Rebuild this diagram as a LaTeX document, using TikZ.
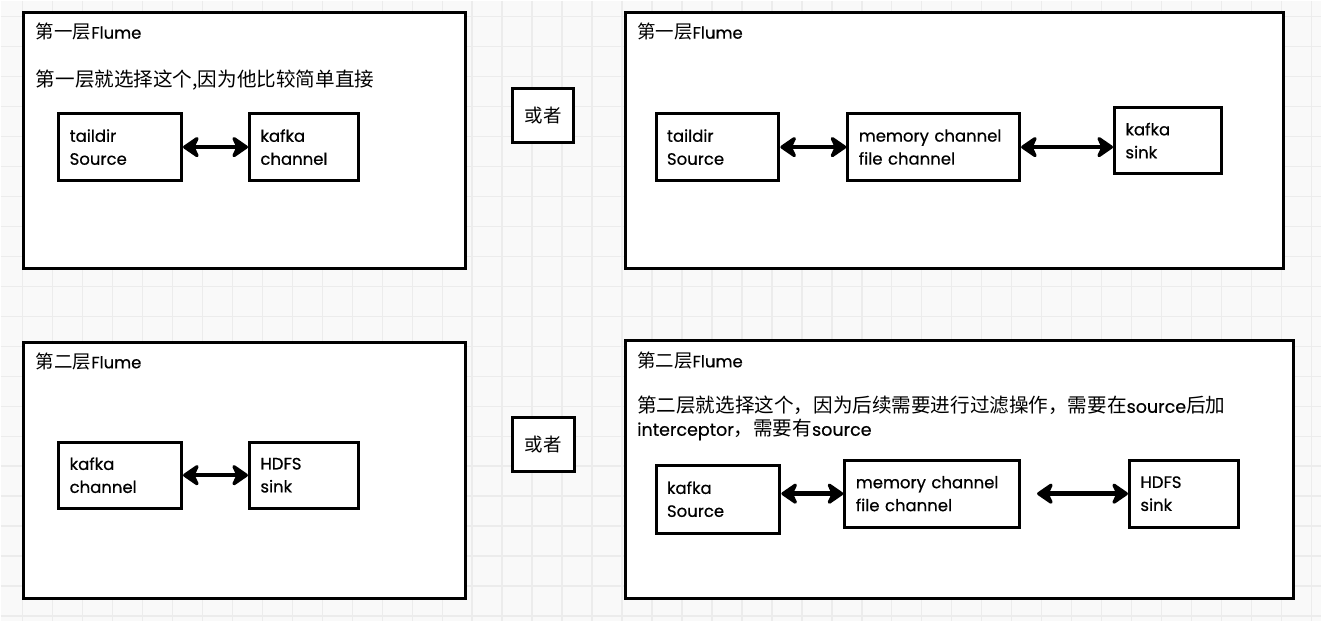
\documentclass[tikz,border=0pt]{standalone}
\usepackage{fontspec}
\setmainfont{Poppins}[UprightFeatures={FakeBold=0.5}]
\newfontfamily\cjk{Noto Sans CJK SC}[Scale=1.12]
\newcommand\zhtxt[1]{{\cjk #1}}
\usetikzlibrary{arrows.meta}
\definecolor{paper}{RGB}{249,249,249}
\definecolor{gridln}{RGB}{236,236,236}

\begin{document}
\begin{tikzpicture}[
  x=1pt, y=-1pt,
  every node/.style={font=\fontsize{16.5}{23}\selectfont},
  layer/.style={draw, line width=3pt, fill=white, inner sep=0pt},
  sbox/.style={draw, line width=3pt, fill=white, align=left, inner xsep=11pt, inner ysep=0pt, minimum height=67pt},
  title/.style={anchor=west, inner sep=0pt},
  dbl/.style={{Stealth[length=19pt,width=26pt,inset=6pt,round]}-{Stealth[length=19pt,width=26pt,inset=6pt,round]}, line width=4.5pt}
]
  % background grid
  \fill[paper] (0,0) rectangle (1322,621);
  \foreach \gx in {22,52,...,1312} \draw[gridln, line width=1.5pt] (\gx,0) -- (\gx,621);
  \foreach \gy in {16,46,...,616} \draw[gridln, line width=1.5pt] (0,\gy) -- (1322,\gy);
  \useasboundingbox (0,0) rectangle (1322,621);

  % layer frames
  \node[layer, minimum width=442pt, minimum height=256pt] (lay1a) at (244,140) {};
  \node[layer, minimum width=659pt, minimum height=256pt] (lay1b) at (954.5,140) {};
  \node[layer, minimum width=442pt, minimum height=256pt] (lay2a) at (244,470) {};
  \node[layer, minimum width=669pt, minimum height=258pt] (lay2b) at (959.5,469) {};

  % titles and notes
  \node[title] (t1a) at (35,31) {\zhtxt{第一层}Flume};
  \node[title] (t1b) at (637,31) {\zhtxt{第一层}Flume};
  \node[title] (t2a) at (35,361) {\zhtxt{第二层}Flume};
  \node[title] (t2b) at (637,360) {\zhtxt{第二层}Flume};
  \node[title, font=\fontsize{17.5}{23}\selectfont] (n1a) at (35,79) {\zhtxt{第一层就选择这个,因为他比较简单直接}};
  \node[title, align=left, font=\fontsize{17.5}{23}\selectfont] (n2b) at (637,418)
    {\zhtxt{第二层就选择这个，因为后续需要进行过滤操作，需要在}source\zhtxt{后加}\\interceptor\zhtxt{，需要有}source};

  % or boxes
  \node[layer, minimum width=61pt, minimum height=54pt] (or1) at (543,115) {\zhtxt{或者}};
  \node[layer, minimum width=62pt, minimum height=54pt] (or2) at (543,444) {\zhtxt{或者}};

  % first layer parts
  \node[sbox, text width=101pt] (src1a) at (119.5,146.5) {taildir\\Source};
  \node[sbox, text width=87pt] (ch1a) at (303.5,146.5) {kafka\\channel};
  \node[sbox, text width=101pt] (src1b) at (717.5,146.5) {taildir\\Source};
  \node[sbox, text width=150pt] (mem1b) at (934,146.5) {memory channel\\file channel};
  \node[sbox, text width=85pt, minimum height=66pt] (sink1b) at (1168.5,140) {kafka\\sink};

  % second layer parts
  \node[sbox, text width=101pt, minimum height=66pt] (ch2a) at (119.5,475) {kafka\\channel};
  \node[sbox, text width=87pt, minimum height=66pt] (sink2a) at (303.5,475) {HDFS\\sink};
  \node[sbox, text width=102pt, minimum height=68pt] (src2b) at (718,499) {kafka\\Source};
  \node[sbox, text width=153pt] (mem2b) at (932.5,493.5) {memory channel\\file channel};
  \node[sbox, text width=87pt] (sink2b) at (1184.5,493.5) {HDFS\\sink};

  % arrows
  \draw[dbl] (src1a) -- (ch1a);
  \draw[dbl] (src1b) -- (mem1b);
  \draw[dbl] (mem1b.east) -- (mem1b.east -| sink1b.west);
  \draw[dbl] (ch2a) -- (sink2a);
  \draw[dbl] (src2b.east |- mem2b.east) -- (mem2b.west);
  \draw[dbl, shorten <=16pt] (mem2b) -- (sink2b);

\end{tikzpicture}
\end{document}
